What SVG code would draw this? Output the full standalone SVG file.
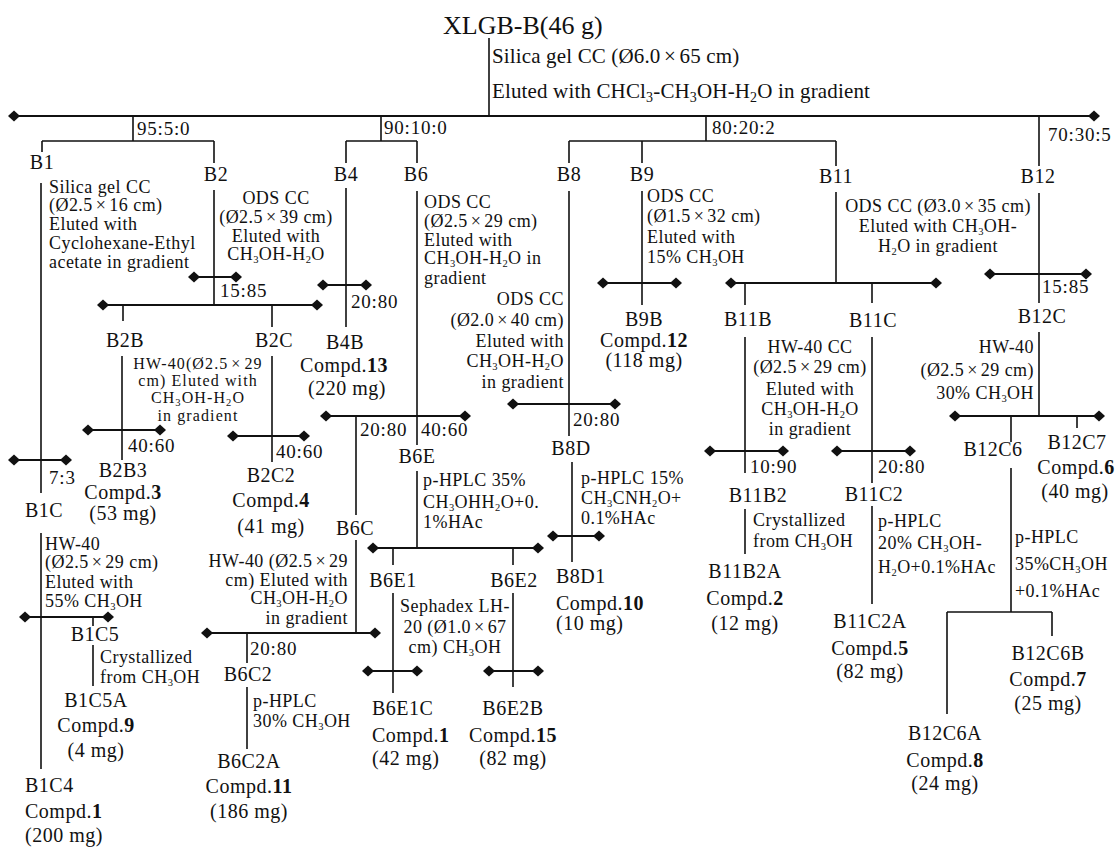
<svg xmlns="http://www.w3.org/2000/svg" width="1115" height="848" viewBox="0 0 1115 848">
<style>
text{font-family:"Liberation Serif","Times New Roman",serif;fill:#111}
.t{font-size:26px}
.h{font-size:21px;letter-spacing:0.15px}
.p{font-size:18px;letter-spacing:0.45px}
.q{font-size:16px;letter-spacing:1.1px}
.r{font-size:19px;letter-spacing:0.8px}
.n{font-size:20px;letter-spacing:0.5px}
.m{text-anchor:middle}
.e{text-anchor:end}
.s{font-size:10.5px}
.sh{font-size:14px}
.bd{font-weight:bold}
.ln{stroke:#111;stroke-width:1.6;fill:none}
.hl{stroke:#111;stroke-width:2;fill:none}
</style>
<defs><path id="d" d="M-6,0L0,-5.5L6,0L0,5.5Z" fill="#111"/></defs>
<rect width="1115" height="848" fill="#fff"/>
<g id="connectors">
<path class="hl" d="M14 116H1094"/>
<path class="ln" d="M489 38V116"/>
<path class="ln" d="M133 116V141M42 141H214M42 141V152M214 141V163"/>
<path class="ln" d="M381 116V141M346 141H417M346 141V163M417 141V163"/>
<path class="ln" d="M706 116V141M569 141H836M569 141V163M642 141V163M836 141V166"/>
<path class="ln" d="M1039 116V166"/>
<path class="ln" d="M41 183V493"/><path class="hl" d="M14 460H66"/>
<path class="ln" d="M41 533V769M93 617V626M93 645V686"/><path class="hl" d="M25 617H108"/>
<path class="ln" d="M214 190V305M123 305V321M272 305V327"/><path class="hl" d="M194 277H236M103 305H317"/>
<path class="ln" d="M122 356V460"/><path class="hl" d="M88 430H160"/>
<path class="ln" d="M272 356V462"/><path class="hl" d="M233 436H304"/>
<path class="ln" d="M346 188V327"/><path class="hl" d="M323 285H366"/>
<path class="ln" d="M417 191V445M356 416V515"/><path class="hl" d="M326 416H465"/>
<path class="ln" d="M417 471V548M393 548V565M513 548V565"/><path class="hl" d="M373 548H538"/>
<path class="ln" d="M393 593V693"/><path class="hl" d="M368 671H417"/>
<path class="ln" d="M513 593V687"/><path class="hl" d="M489 671H538"/>
<path class="ln" d="M356 540V633M247 633V663"/><path class="hl" d="M207 633H375"/>
<path class="ln" d="M247 687V749"/>
<path class="ln" d="M569 191V436"/><path class="hl" d="M513 404H615"/>
<path class="ln" d="M572 462V562"/><path class="hl" d="M553 536H599"/>
<path class="ln" d="M642 191V305"/><path class="hl" d="M603 283H676"/>
<path class="ln" d="M836 192V283M745 283V305M872 283V303"/><path class="hl" d="M731 283H936"/>
<path class="ln" d="M745 337V473"/><path class="hl" d="M710 451H783"/>
<path class="ln" d="M745 509V554"/>
<path class="ln" d="M872 337V483"/><path class="hl" d="M837 451H910"/>
<path class="ln" d="M872 506V604"/>
<path class="ln" d="M1039 193V303"/><path class="hl" d="M990 274H1086"/>
<path class="ln" d="M1039 332V416M1011 416V442M1077 416V428"/><path class="hl" d="M955 416H1099"/>
<path class="ln" d="M1011 468V612M947 612H1052M947 612V714M1052 612V636"/>
<use href="#d" x="14" y="116"/><use href="#d" x="1094" y="116"/>
<use href="#d" x="14" y="460"/><use href="#d" x="66" y="460"/>
<use href="#d" x="25" y="617"/><use href="#d" x="108" y="617"/>
<use href="#d" x="194" y="277"/><use href="#d" x="236" y="277"/>
<use href="#d" x="103" y="305"/><use href="#d" x="317" y="305"/>
<use href="#d" x="88" y="430"/><use href="#d" x="160" y="430"/>
<use href="#d" x="233" y="436"/><use href="#d" x="304" y="436"/>
<use href="#d" x="323" y="285"/><use href="#d" x="366" y="285"/>
<use href="#d" x="326" y="416"/><use href="#d" x="465" y="416"/>
<use href="#d" x="373" y="548"/><use href="#d" x="538" y="548"/>
<use href="#d" x="368" y="671"/><use href="#d" x="417" y="671"/>
<use href="#d" x="489" y="671"/><use href="#d" x="538" y="671"/>
<use href="#d" x="207" y="633"/><use href="#d" x="375" y="633"/>
<use href="#d" x="513" y="404"/><use href="#d" x="615" y="404"/>
<use href="#d" x="553" y="536"/><use href="#d" x="599" y="536"/>
<use href="#d" x="603" y="283"/><use href="#d" x="676" y="283"/>
<use href="#d" x="731" y="283"/><use href="#d" x="936" y="283"/>
<use href="#d" x="710" y="451"/><use href="#d" x="783" y="451"/>
<use href="#d" x="837" y="451"/><use href="#d" x="910" y="451"/>
<use href="#d" x="990" y="274"/><use href="#d" x="1086" y="274"/>
<use href="#d" x="955" y="416"/><use href="#d" x="1099" y="416"/>
</g>
<g id="n-XLGB-B">
<text class="t" x="443" y="34">XLGB-B(46 g)</text>
<text class="h" x="492" y="63">Silica gel CC (Ø6.0<tspan dx="3.5">×</tspan><tspan dx="3.5">65 cm)</tspan></text>
<text class="h" x="492" y="98">Eluted with CHCl<tspan class="sh" dy="4">3</tspan><tspan dy="-4">-CH</tspan><tspan class="sh" dy="4">3</tspan><tspan dy="-4">OH-H</tspan><tspan class="sh" dy="4">2</tspan><tspan dy="-4">O in gradient</tspan></text>
</g>
<g id="ratios">
<text class="r" x="137" y="135">95:5:0</text>
<text class="r" x="384" y="134">90:10:0</text>
<text class="r" x="712" y="134">80:20:2</text>
<text class="r" x="1048" y="141">70:30:5</text>
</g>
<g id="n-B1">
<text class="n m" x="42" y="169">B1</text>
<text class="p" x="49" y="193">Silica gel CC</text>
<text class="p" x="49" y="211">(Ø2.5<tspan dx="3">×</tspan><tspan dx="3">16 cm)</tspan></text>
<text class="p" x="49" y="230">Eluted with</text>
<text class="p" x="49" y="249">Cyclohexane-Ethyl</text>
<text class="p" x="49" y="268">acetate in gradient</text>
<text class="r" x="49" y="484">7:3</text>
</g>
<g id="n-B1C">
<text class="n m" x="44" y="517">B1C</text>
<text class="p" x="45" y="550">HW-40</text>
<text class="p" x="45" y="568">(Ø2.5<tspan dx="3">×</tspan><tspan dx="3">29 cm)</tspan></text>
<text class="p" x="45" y="588">Eluted with</text>
<text class="p" x="45" y="607">55% CH<tspan class="s" dy="2.5">3</tspan><tspan dy="-2.5">OH</tspan></text>
</g>
<g id="n-B1C5">
<text class="n m" x="95" y="641">B1C5</text>
<text class="p" x="100" y="663">Crystallized</text>
<text class="p" x="100" y="683">from CH<tspan class="s" dy="2.5">3</tspan><tspan dy="-2.5">OH</tspan></text>
</g>
<g id="n-B1C5A">
<text class="n m" x="96" y="707">B1C5A</text>
<text class="n m" x="96" y="732">Compd.<tspan class="bd">9</tspan></text>
<text class="n m" x="96" y="757">(4 mg)</text>
</g>
<g id="n-B1C4">
<text class="n" x="25" y="792">B1C4</text>
<text class="n" x="25" y="818">Compd.<tspan class="bd">1</tspan></text>
<text class="n" x="25" y="842">(200 mg)</text>
</g>
<g id="n-B2">
<text class="n m" x="216" y="181">B2</text>
<text class="p m" x="276" y="204">ODS CC</text>
<text class="p m" x="276" y="223">(Ø2.5<tspan dx="3">×</tspan><tspan dx="3">39 cm)</tspan></text>
<text class="p m" x="276" y="242">Eluted with</text>
<text class="p m" x="276" y="260">CH<tspan class="s" dy="2.5">3</tspan><tspan dy="-2.5">OH-H</tspan><tspan class="s" dy="2.5">2</tspan><tspan dy="-2.5">O</tspan></text>
<text class="r" x="220" y="297">15:85</text>
</g>
<g id="n-B2B">
<text class="n m" x="125" y="347">B2B</text>
<text class="q m" x="198" y="369">HW-40(Ø2.5<tspan dx="3">×</tspan><tspan dx="3">29</tspan></text>
<text class="q m" x="198" y="386">cm) Eluted with</text>
<text class="q m" x="198" y="403">CH<tspan class="s" dy="2.5">3</tspan><tspan dy="-2.5">OH-H</tspan><tspan class="s" dy="2.5">2</tspan><tspan dy="-2.5">O</tspan></text>
<text class="q m" x="198" y="421">in gradient</text>
<text class="r" x="128" y="452">40:60</text>
</g>
<g id="n-B2B3">
<text class="n m" x="123" y="477">B2B3</text>
<text class="n m" x="123" y="499">Compd.<tspan class="bd">3</tspan></text>
<text class="n m" x="123" y="520">(53 mg)</text>
</g>
<g id="n-B2C">
<text class="n m" x="274" y="347">B2C</text>
<text class="r" x="276" y="458">40:60</text>
</g>
<g id="n-B2C2">
<text class="n m" x="271" y="482">B2C2</text>
<text class="n m" x="271" y="507">Compd.<tspan class="bd">4</tspan></text>
<text class="n m" x="271" y="533">(41 mg)</text>
</g>
<g id="n-B4">
<text class="n m" x="346" y="181">B4</text>
<text class="r" x="351" y="308">20:80</text>
</g>
<g id="n-B4B">
<text class="n m" x="345" y="349">B4B</text>
<text class="n m" x="344" y="372">Compd.<tspan class="bd">13</tspan></text>
<text class="n m" x="347" y="395">(220 mg)</text>
</g>
<g id="n-B6">
<text class="n m" x="416" y="181">B6</text>
<text class="p" x="424" y="208">ODS CC</text>
<text class="p" x="424" y="227">(Ø2.5<tspan dx="3">×</tspan><tspan dx="3">29 cm)</tspan></text>
<text class="p" x="424" y="246">Eluted with</text>
<text class="p" x="424" y="264">CH<tspan class="s" dy="2.5">3</tspan><tspan dy="-2.5">OH-H</tspan><tspan class="s" dy="2.5">2</tspan><tspan dy="-2.5">O in</tspan></text>
<text class="p" x="424" y="284">gradient</text>
<text class="r" x="360" y="436">20:80</text>
<text class="r" x="421" y="436">40:60</text>
</g>
<g id="n-B6E">
<text class="n m" x="417" y="463">B6E</text>
<text class="p" x="423" y="486">p-HPLC 35%</text>
<text class="p" x="423" y="508">CH<tspan class="s" dy="2.5">3</tspan><tspan dy="-2.5">OHH</tspan><tspan class="s" dy="2.5">2</tspan><tspan dy="-2.5">O+0.</tspan></text>
<text class="p" x="423" y="528">1%HAc</text>
</g>
<g id="n-B6E1">
<text class="n m" x="393" y="587">B6E1</text>
<text class="p m" x="455" y="612">Sephadex LH-</text>
<text class="p m" x="455" y="633">20 (Ø1.0<tspan dx="3">×</tspan><tspan dx="3">67</tspan></text>
<text class="p m" x="455" y="653">cm) CH<tspan class="s" dy="2.5">3</tspan><tspan dy="-2.5">OH</tspan></text>
</g>
<g id="n-B6E1C">
<text class="n" x="372" y="715">B6E1C</text>
<text class="n" x="372" y="742">Compd.<tspan class="bd">1</tspan></text>
<text class="n" x="372" y="765">(42 mg)</text>
</g>
<g id="n-B6E2">
<text class="n m" x="514" y="587">B6E2</text>
</g>
<g id="n-B6E2B">
<text class="n m" x="513" y="715">B6E2B</text>
<text class="n m" x="513" y="742">Compd.<tspan class="bd">15</tspan></text>
<text class="n m" x="513" y="765">(82 mg)</text>
</g>
<g id="n-B6C">
<text class="n m" x="355" y="535">B6C</text>
<text class="p e" x="348" y="567">HW-40 (Ø2.5<tspan dx="3">×</tspan><tspan dx="3">29</tspan></text>
<text class="p e" x="348" y="586">cm) Eluted with</text>
<text class="p e" x="348" y="604">CH<tspan class="s" dy="2.5">3</tspan><tspan dy="-2.5">OH-H</tspan><tspan class="s" dy="2.5">2</tspan><tspan dy="-2.5">O</tspan></text>
<text class="p e" x="348" y="624">in gradient</text>
<text class="r" x="250" y="655">20:80</text>
</g>
<g id="n-B6C2">
<text class="n m" x="248" y="681">B6C2</text>
<text class="p" x="253" y="707">p-HPLC</text>
<text class="p" x="253" y="727">30% CH<tspan class="s" dy="2.5">3</tspan><tspan dy="-2.5">OH</tspan></text>
</g>
<g id="n-B6C2A">
<text class="n m" x="249" y="768">B6C2A</text>
<text class="n m" x="249" y="793">Compd.<tspan class="bd">11</tspan></text>
<text class="n m" x="249" y="818">(186 mg)</text>
</g>
<g id="n-B8">
<text class="n m" x="569" y="181">B8</text>
<text class="p e" x="564" y="305">ODS CC</text>
<text class="p e" x="564" y="326">(Ø2.0<tspan dx="3">×</tspan><tspan dx="3">40 cm)</tspan></text>
<text class="p e" x="564" y="347">Eluted with</text>
<text class="p e" x="564" y="367">CH<tspan class="s" dy="2.5">3</tspan><tspan dy="-2.5">OH-H</tspan><tspan class="s" dy="2.5">2</tspan><tspan dy="-2.5">O</tspan></text>
<text class="p e" x="564" y="388">in gradient</text>
<text class="r" x="573" y="426">20:80</text>
</g>
<g id="n-B8D">
<text class="n m" x="571" y="455">B8D</text>
<text class="p" x="581" y="484">p-HPLC 15%</text>
<text class="p" x="581" y="504">CH<tspan class="s" dy="2.5">3</tspan><tspan dy="-2.5">CNH</tspan><tspan class="s" dy="2.5">2</tspan><tspan dy="-2.5">O+</tspan></text>
<text class="p" x="581" y="524">0.1%HAc</text>
</g>
<g id="n-B8D1">
<text class="n" x="556" y="583">B8D1</text>
<text class="n" x="556" y="610">Compd.<tspan class="bd">10</tspan></text>
<text class="n" x="556" y="630">(10 mg)</text>
</g>
<g id="n-B9">
<text class="n m" x="642" y="181">B9</text>
<text class="p" x="647" y="202">ODS CC</text>
<text class="p" x="647" y="222">(Ø1.5<tspan dx="3">×</tspan><tspan dx="3">32 cm)</tspan></text>
<text class="p" x="647" y="243">Eluted with</text>
<text class="p" x="647" y="263">15% CH<tspan class="s" dy="2.5">3</tspan><tspan dy="-2.5">OH</tspan></text>
</g>
<g id="n-B9B">
<text class="n m" x="644" y="326">B9B</text>
<text class="n m" x="644" y="347">Compd.<tspan class="bd">12</tspan></text>
<text class="n m" x="644" y="367">(118 mg)</text>
</g>
<g id="n-B11">
<text class="n m" x="836" y="183">B11</text>
<text class="p m" x="938" y="212">ODS CC (Ø3.0<tspan dx="3">×</tspan><tspan dx="3">35 cm)</tspan></text>
<text class="p m" x="938" y="232">Eluted with CH<tspan class="s" dy="2.5">3</tspan><tspan dy="-2.5">OH-</tspan></text>
<text class="p m" x="938" y="252">H<tspan class="s" dy="2.5">2</tspan><tspan dy="-2.5">O in gradient</tspan></text>
</g>
<g id="n-B11B">
<text class="n m" x="748" y="326">B11B</text>
<text class="p m" x="810" y="353">HW-40 CC</text>
<text class="p m" x="810" y="373">(Ø2.5<tspan dx="3">×</tspan><tspan dx="3">29 cm)</tspan></text>
<text class="p m" x="810" y="395">Eluted with</text>
<text class="p m" x="810" y="415">CH<tspan class="s" dy="2.5">3</tspan><tspan dy="-2.5">OH-H</tspan><tspan class="s" dy="2.5">2</tspan><tspan dy="-2.5">O</tspan></text>
<text class="p m" x="810" y="435">in gradient</text>
<text class="r" x="750" y="473">10:90</text>
</g>
<g id="n-B11B2">
<text class="n m" x="758" y="502">B11B2</text>
<text class="p" x="753" y="526">Crystallized</text>
<text class="p" x="753" y="547">from CH<tspan class="s" dy="2.5">3</tspan><tspan dy="-2.5">OH</tspan></text>
</g>
<g id="n-B11B2A">
<text class="n m" x="745" y="578">B11B2A</text>
<text class="n m" x="745" y="605">Compd.<tspan class="bd">2</tspan></text>
<text class="n m" x="745" y="630">(12 mg)</text>
</g>
<g id="n-B11C">
<text class="n m" x="873" y="327">B11C</text>
<text class="r" x="878" y="473">20:80</text>
</g>
<g id="n-B11C2">
<text class="n m" x="874" y="501">B11C2</text>
<text class="p" x="878" y="527">p-HPLC</text>
<text class="p" x="878" y="549">20% CH<tspan class="s" dy="2.5">3</tspan><tspan dy="-2.5">OH-</tspan></text>
<text class="p" x="878" y="573">H<tspan class="s" dy="2.5">2</tspan><tspan dy="-2.5">O+0.1%HAc</tspan></text>
</g>
<g id="n-B11C2A">
<text class="n m" x="870" y="628">B11C2A</text>
<text class="n m" x="870" y="655">Compd.<tspan class="bd">5</tspan></text>
<text class="n m" x="870" y="678">(82 mg)</text>
</g>
<g id="n-B12">
<text class="n m" x="1038" y="183">B12</text>
<text class="r" x="1042" y="293">15:85</text>
</g>
<g id="n-B12C">
<text class="n m" x="1042" y="323">B12C</text>
<text class="p e" x="1034" y="353">HW-40</text>
<text class="p e" x="1034" y="376">(Ø2.5<tspan dx="3">×</tspan><tspan dx="3">29 cm)</tspan></text>
<text class="p e" x="1034" y="399">30% CH<tspan class="s" dy="2.5">3</tspan><tspan dy="-2.5">OH</tspan></text>
</g>
<g id="n-B12C6">
<text class="n m" x="993" y="456">B12C6</text>
<text class="p" x="1015" y="543">p-HPLC</text>
<text class="p" x="1015" y="570">35%CH<tspan class="s" dy="2.5">3</tspan><tspan dy="-2.5">OH</tspan></text>
<text class="p" x="1015" y="597">+0.1%HAc</text>
</g>
<g id="n-B12C7">
<text class="n m" x="1077" y="449">B12C7</text>
<text class="n m" x="1076" y="474">Compd.<tspan class="bd">6</tspan></text>
<text class="n m" x="1075" y="498">(40 mg)</text>
</g>
<g id="n-B12C6A">
<text class="n m" x="945" y="740">B12C6A</text>
<text class="n m" x="945" y="767">Compd.<tspan class="bd">8</tspan></text>
<text class="n m" x="945" y="790">(24 mg)</text>
</g>
<g id="n-B12C6B">
<text class="n m" x="1048" y="660">B12C6B</text>
<text class="n m" x="1048" y="686">Compd.<tspan class="bd">7</tspan></text>
<text class="n m" x="1048" y="710">(25 mg)</text>
</g>
</svg>
